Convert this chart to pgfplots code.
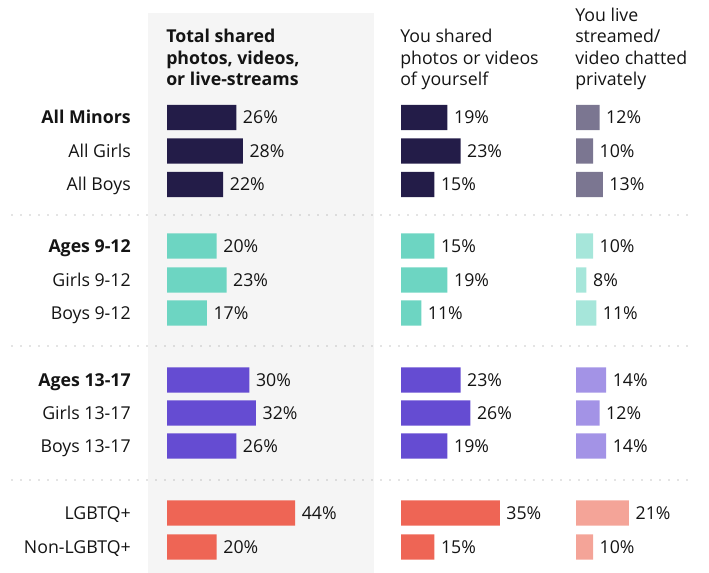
\documentclass[border=0pt]{standalone}
\usepackage{pgfplots}
\pgfplotsset{compat=1.18}
\usepackage{fontspec}
\setmainfont{Open Sans}
\definecolor{txt}{HTML}{141414}
\definecolor{panel}{HTML}{F5F5F5}
\definecolor{sepc}{HTML}{8C8C8C}
\definecolor{navy}{HTML}{231C48}
\definecolor{navyl}{HTML}{7B7691}
\definecolor{teal}{HTML}{6DD5C2}
\definecolor{teall}{HTML}{A6E6DA}
\definecolor{purp}{HTML}{654CD2}
\definecolor{purpl}{HTML}{A393E6}
\definecolor{coral}{HTML}{EE6555}
\definecolor{corall}{HTML}{F4A498}
\newcommand{\fs}{\fontsize{13.3}{15.5}\selectfont}
\pgfplotsset{colbar/.style={
  xbar, bar width=19.1pt, bar shift=0pt,
  xmin=4.8, ymin=90, ymax=573,
  x=2.4525pt, y=0.75pt, y dir=reverse,
  axis line style={draw=none}, xtick=\empty, major tick length=0pt,
  anchor=north west, clip=true,
  point meta=x,
  /pgf/number format/assume math mode=true,
  nodes near coords={\pgfmathprintnumber{\pgfplotspointmeta}\%},
  every node near coord/.append style={inner sep=0pt, xshift=4.8pt,
     text height=9.5pt, text depth=0pt, font=\fs, text=txt},
}}
\begin{document}
\fs
\begin{tikzpicture}[x=0.75pt,y=-0.75pt,text=txt]
\useasboundingbox (0,0) rectangle (709,573);
\fill[panel] (148,13) rectangle (374,573);
\foreach \yy in {215,346,480}
  \draw[sepc, line width=1pt, line cap=round, dash pattern=on 0pt off 6.75pt] (12,\yy) -- (695,\yy);
% headers
\begin{scope}[every node/.style={anchor=base west, inner sep=0pt, font=\fs}]
\node[font=\fs\bfseries] at (166,43) {Total shared};
\node[font=\fs\bfseries] at (166,64.5) {photos, videos,};
\node[font=\fs\bfseries] at (166,86) {or live-streams};
\node at (400,43) {You shared};
\node at (400,64.5) {photos or videos};
\node at (400,86) {of yourself};
\node at (575,21.5) {You live};
\node at (575,43) {streamed/};
\node at (575,64.5) {video chatted};
\node at (575,86) {privately};
\end{scope}
% column 1
\begin{axis}[colbar, at={(125.25pt,-67.5pt)}, xmax=68.1,
  ytick={117.5,151,184.5,246,280,313,380,413,446,513,547},
  yticklabels={\textbf{All Minors},All Girls,All Boys,\textbf{Ages 9-12},Girls 9-12,Boys 9-12,\textbf{Ages 13-17},Girls 13-17,Boys 13-17,LGBTQ+,Non-LGBTQ+},
  yticklabel style={anchor=east, inner sep=0pt, xshift=-27pt, text height=9.5pt, text depth=0pt, font=\fs, text=txt}]
\addplot[fill=navy, draw=none] coordinates {(26,117.5) (28,151) (22,184.5)};
\addplot[fill=teal, draw=none] coordinates {(20,246) (23,280) (17,313)};
\addplot[fill=purp, draw=none] coordinates {(30,380) (32,413) (26,446)};
\addplot[fill=coral, draw=none] coordinates {(44,513) (20,547)};
\end{axis}
% column 2
\begin{axis}[colbar, at={(300.75pt,-67.5pt)}, xmax=53.4, ytick=\empty]
\addplot[fill=navy, draw=none] coordinates {(19,117.5) (23,151) (15,184.5)};
\addplot[fill=teal, draw=none] coordinates {(15,246) (19,280) (11,313)};
\addplot[fill=purp, draw=none] coordinates {(23,380) (26,413) (19,446)};
\addplot[fill=coral, draw=none] coordinates {(35,513) (15,547)};
\end{axis}
% column 3
\begin{axis}[colbar, at={(432pt,-67.5pt)}, xmax=42.7, ytick=\empty]
\addplot[fill=navyl, draw=none] coordinates {(12,117.5) (10,151) (13,184.5)};
\addplot[fill=teall, draw=none] coordinates {(10,246) (8,280) (11,313)};
\addplot[fill=purpl, draw=none] coordinates {(14,380) (12,413) (14,446)};
\addplot[fill=corall, draw=none] coordinates {(21,513) (10,547)};
\end{axis}
\end{tikzpicture}
\end{document}
